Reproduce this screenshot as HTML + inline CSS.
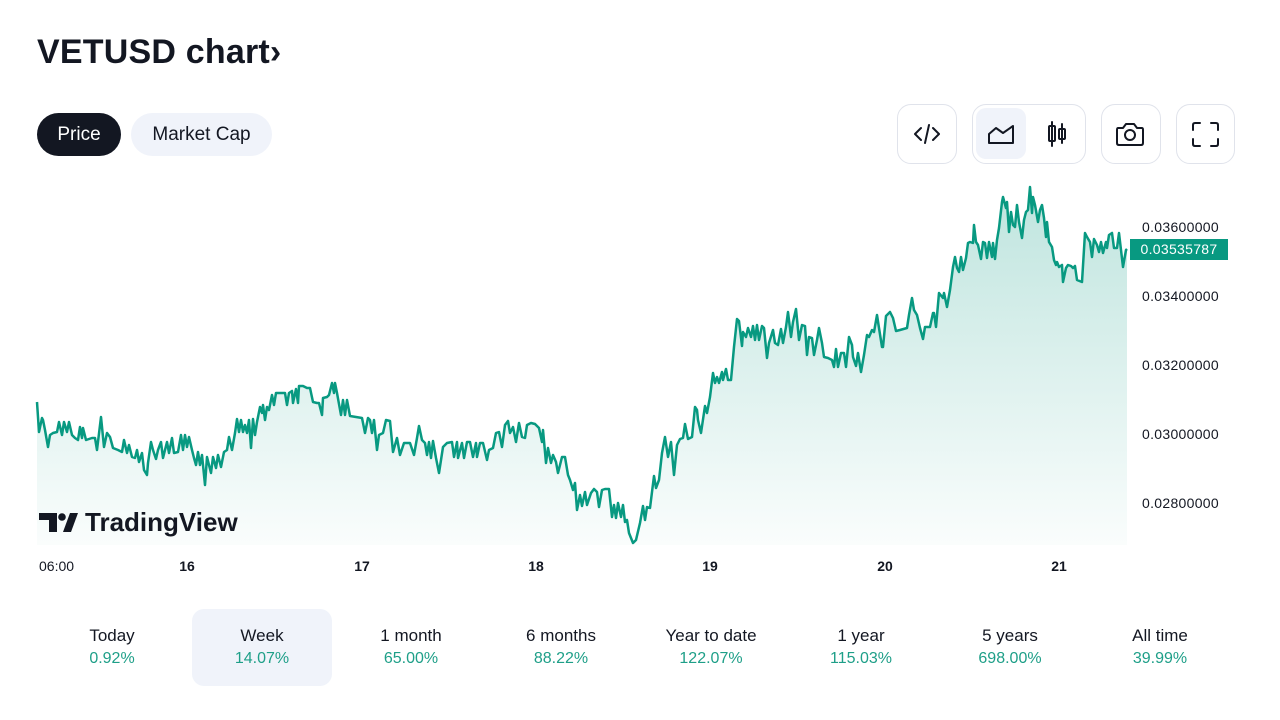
<!DOCTYPE html>
<html><head><meta charset="utf-8"><style>
*{margin:0;padding:0;box-sizing:border-box}
body{width:1280px;height:720px;background:#fff;font-family:"Liberation Sans",sans-serif;color:#131722;position:relative;overflow:hidden}
.abs{position:absolute}
.title{left:37px;top:33px;font-size:34px;font-weight:bold;letter-spacing:0.2px;white-space:nowrap}
.pill{top:113px;height:43px;border-radius:22px;font-size:19px;line-height:43px;text-align:center}
.btn{top:104px;height:60px;border:1px solid #e0e3eb;border-radius:14px}
.yl{left:1142px;font-size:14px;line-height:16px;letter-spacing:0.3px}
.xl{top:558px;font-size:14px;line-height:16px;font-weight:bold;width:40px;text-align:center}
.stat{top:609px;width:140px;height:77px;text-align:center}
.stat .l{margin-top:17px;font-size:17px;line-height:20px;color:#131722}
.stat .v{margin-top:3px;font-size:16px;line-height:19px;color:#1e9f88}
</style></head><body>
<div class="abs title">VETUSD chart›</div>
<div class="abs pill" style="left:37px;width:84px;background:#131722;color:#fff">Price</div>
<div class="abs pill" style="left:131px;width:141px;background:#f0f3fa;color:#131722">Market Cap</div>

<div class="abs btn" style="left:897px;width:60px"></div>
<div class="abs btn" style="left:972px;width:114px"></div>
<div class="abs" style="left:976px;top:108px;width:50px;height:51px;background:#f0f3fa;border-radius:10px"></div>
<div class="abs btn" style="left:1101px;width:60px"></div>
<div class="abs btn" style="left:1176px;width:59px"></div>

<svg class="abs" style="left:0;top:0" width="1280" height="720" viewBox="0 0 1280 720">
<defs>
<linearGradient id="g" x1="0" y1="187" x2="0" y2="545" gradientUnits="userSpaceOnUse">
<stop offset="0" stop-color="#089981" stop-opacity="0.26"/>
<stop offset="1" stop-color="#089981" stop-opacity="0.02"/>
</linearGradient>
</defs>
<g fill="none" stroke="#131722" stroke-width="2" stroke-linecap="round" stroke-linejoin="round">
<polyline points="921,128 915,134 921,140"/>
<polyline points="933,128 939,134 933,140"/>
<line x1="929" y1="125" x2="925" y2="143"/>
<path d="M989,143 L989,134 L996,128 L1003,133 L1013,126 L1013,143 Z"/>
<line x1="1052" y1="122" x2="1052" y2="146"/>
<rect x="1049" y="126" width="6" height="15" rx="1"/>
<line x1="1062" y1="124" x2="1062" y2="143"/>
<rect x="1059" y="129" width="6" height="10" rx="1"/>
<path d="M1118,128 L1123,128 L1126,124 L1134,124 L1137,128 L1142,128 Q1143,128 1143,130 L1143,143 Q1143,145 1141,145 L1119,145 Q1117,145 1117,143 L1117,130 Q1117,128 1118,128 Z"/>
<circle cx="1130" cy="135" r="5"/>
<path d="M1193,130 L1193,125 Q1193,123 1195,123 L1200,123"/>
<path d="M1211,123 L1216,123 Q1218,123 1218,125 L1218,130"/>
<path d="M1218,139 L1218,144 Q1218,146 1216,146 L1211,146"/>
<path d="M1200,146 L1195,146 Q1193,146 1193,144 L1193,139"/>
</g>
<polygon fill="url(#g)" points="37,545 37,402 39,432 42,418 43,420 45,430 48,447 50,435 53,433 57,432 59,422 62,435 64,422 67,432 69,422 72,435 75,438 78,440 80,427 82,438 83,428 86,440 92,438 95,438 97,450 101,417 104,447 107,433 110,437 113,448 118,450 122,452 124,440 127,453 129,445 132,457 135,458 137,450 139,462 142,453 144,470 147,475 148,463 151,442 153,450 156,459 158,450 161,442 163,458 167,442 169,453 172,438 174,453 178,452 181,435 183,450 185,435 187,447 189,437 192,450 194,458 196,465 198,452 200,465 202,455 205,485 207,457 211,473 213,457 216,468 218,455 221,467 224,452 227,450 229,437 232,450 235,433 237,419 239,432 241,420 243,432 245,425 247,433 249,420 251,448 253,419 255,435 257,422 260,407 262,413 263,405 265,420 267,407 269,410 272,395 274,405 276,393 278,393 285,393 287,405 289,393 292,391 293,403 296,389 298,403 299,386 303,386 307,388 310,388 313,402 317,403 319,403 322,415 323,398 327,397 329,395 332,383 334,393 335,383 337,393 341,415 343,400 345,415 347,400 350,416 362,418 365,433 368,418 370,420 372,433 374,420 377,450 379,435 383,433 386,420 390,421 393,452 397,438 400,455 404,443 410,443 414,455 417,438 419,426 422,440 425,443 427,455 429,442 431,458 433,441 436,458 439,473 443,447 447,443 452,442 454,457 457,442 458,458 462,443 464,458 467,442 470,442 473,457 476,443 477,457 480,443 483,443 487,460 489,450 493,448 496,433 499,432 502,447 505,425 508,421 510,433 513,427 516,442 519,423 522,437 525,438 527,425 531,423 535,424 539,428 542,442 543,430 546,463 548,448 551,463 553,455 556,462 558,473 562,457 565,457 568,475 570,480 573,490 575,483 577,510 580,495 582,506 585,492 587,505 591,493 594,489 597,492 599,507 602,490 605,489 609,489 612,517 614,505 616,518 618,503 621,517 623,505 625,522 627,520 629,533 633,543 636,540 640,523 643,506 645,520 647,507 650,508 654,476 656,488 659,480 662,453 665,437 668,457 671,442 674,475 677,445 680,439 683,438 685,424 688,439 692,437 695,407 697,410 698,420 701,433 705,406 707,413 710,397 713,373 715,383 717,377 719,383 722,372 723,380 726,369 728,380 731,380 734,347 737,319 739,321 742,346 743,332 746,337 748,328 751,337 753,326 755,340 757,325 759,340 762,326 764,328 767,358 769,343 773,330 775,343 778,345 781,329 783,343 786,327 788,312 791,337 793,322 796,309 799,340 802,325 805,326 807,355 809,337 812,338 814,355 817,340 819,328 822,343 824,357 828,358 832,360 834,367 836,349 838,367 841,353 844,353 846,367 849,337 852,345 853,357 856,366 858,353 861,372 864,355 867,335 869,337 872,330 874,332 877,315 879,328 882,347 883,347 886,316 890,312 893,318 896,331 900,330 907,328 909,315 912,298 914,310 917,315 920,328 923,339 925,327 930,327 933,313 934,313 936,327 939,293 943,298 944,293 947,307 950,290 953,267 955,257 957,268 959,272 961,257 963,270 966,258 968,243 970,242 973,243 974,225 976,242 978,245 981,259 983,242 985,243 987,258 989,242 992,257 993,243 995,259 997,240 999,228 1002,202 1003,197 1006,208 1007,202 1009,232 1011,212 1013,225 1015,227 1017,205 1019,222 1022,238 1024,220 1026,212 1028,210 1030,187 1032,213 1033,197 1035,205 1038,222 1040,210 1042,205 1044,218 1046,237 1047,222 1049,242 1052,247 1054,260 1056,265 1057,262 1059,267 1062,265 1063,282 1066,268 1068,265 1071,266 1073,268 1075,266 1077,280 1082,282 1085,233 1087,237 1090,242 1092,257 1094,239 1097,245 1099,252 1101,242 1103,253 1106,242 1107,248 1109,235 1112,233 1114,248 1117,248 1119,233 1121,250 1123,267 1126,250 1127,249 1127,545"/>
<polyline fill="none" stroke="#089981" stroke-width="2.5" stroke-linejoin="round" points="37,402 39,432 42,418 43,420 45,430 48,447 50,435 53,433 57,432 59,422 62,435 64,422 67,432 69,422 72,435 75,438 78,440 80,427 82,438 83,428 86,440 92,438 95,438 97,450 101,417 104,447 107,433 110,437 113,448 118,450 122,452 124,440 127,453 129,445 132,457 135,458 137,450 139,462 142,453 144,470 147,475 148,463 151,442 153,450 156,459 158,450 161,442 163,458 167,442 169,453 172,438 174,453 178,452 181,435 183,450 185,435 187,447 189,437 192,450 194,458 196,465 198,452 200,465 202,455 205,485 207,457 211,473 213,457 216,468 218,455 221,467 224,452 227,450 229,437 232,450 235,433 237,419 239,432 241,420 243,432 245,425 247,433 249,420 251,448 253,419 255,435 257,422 260,407 262,413 263,405 265,420 267,407 269,410 272,395 274,405 276,393 278,393 285,393 287,405 289,393 292,391 293,403 296,389 298,403 299,386 303,386 307,388 310,388 313,402 317,403 319,403 322,415 323,398 327,397 329,395 332,383 334,393 335,383 337,393 341,415 343,400 345,415 347,400 350,416 362,418 365,433 368,418 370,420 372,433 374,420 377,450 379,435 383,433 386,420 390,421 393,452 397,438 400,455 404,443 410,443 414,455 417,438 419,426 422,440 425,443 427,455 429,442 431,458 433,441 436,458 439,473 443,447 447,443 452,442 454,457 457,442 458,458 462,443 464,458 467,442 470,442 473,457 476,443 477,457 480,443 483,443 487,460 489,450 493,448 496,433 499,432 502,447 505,425 508,421 510,433 513,427 516,442 519,423 522,437 525,438 527,425 531,423 535,424 539,428 542,442 543,430 546,463 548,448 551,463 553,455 556,462 558,473 562,457 565,457 568,475 570,480 573,490 575,483 577,510 580,495 582,506 585,492 587,505 591,493 594,489 597,492 599,507 602,490 605,489 609,489 612,517 614,505 616,518 618,503 621,517 623,505 625,522 627,520 629,533 633,543 636,540 640,523 643,506 645,520 647,507 650,508 654,476 656,488 659,480 662,453 665,437 668,457 671,442 674,475 677,445 680,439 683,438 685,424 688,439 692,437 695,407 697,410 698,420 701,433 705,406 707,413 710,397 713,373 715,383 717,377 719,383 722,372 723,380 726,369 728,380 731,380 734,347 737,319 739,321 742,346 743,332 746,337 748,328 751,337 753,326 755,340 757,325 759,340 762,326 764,328 767,358 769,343 773,330 775,343 778,345 781,329 783,343 786,327 788,312 791,337 793,322 796,309 799,340 802,325 805,326 807,355 809,337 812,338 814,355 817,340 819,328 822,343 824,357 828,358 832,360 834,367 836,349 838,367 841,353 844,353 846,367 849,337 852,345 853,357 856,366 858,353 861,372 864,355 867,335 869,337 872,330 874,332 877,315 879,328 882,347 883,347 886,316 890,312 893,318 896,331 900,330 907,328 909,315 912,298 914,310 917,315 920,328 923,339 925,327 930,327 933,313 934,313 936,327 939,293 943,298 944,293 947,307 950,290 953,267 955,257 957,268 959,272 961,257 963,270 966,258 968,243 970,242 973,243 974,225 976,242 978,245 981,259 983,242 985,243 987,258 989,242 992,257 993,243 995,259 997,240 999,228 1002,202 1003,197 1006,208 1007,202 1009,232 1011,212 1013,225 1015,227 1017,205 1019,222 1022,238 1024,220 1026,212 1028,210 1030,187 1032,213 1033,197 1035,205 1038,222 1040,210 1042,205 1044,218 1046,237 1047,222 1049,242 1052,247 1054,260 1056,265 1057,262 1059,267 1062,265 1063,282 1066,268 1068,265 1071,266 1073,268 1075,266 1077,280 1082,282 1085,233 1087,237 1090,242 1092,257 1094,239 1097,245 1099,252 1101,242 1103,253 1106,242 1107,248 1109,235 1112,233 1114,248 1117,248 1119,233 1121,250 1123,267 1126,250 1127,249"/>
<rect x="1130" y="239" width="98" height="21" fill="#089981"/>
<g fill="#131722">
<path d="M39,513 L57,513 L57,532 L49,532 L49,520 L39,520 Z"/>
<circle cx="62" cy="517" r="3.8"/>
<path d="M70,513 L78,513 L71,532 L63,532 Z"/>
</g>
</svg>

<div class="abs" style="left:1130px;top:241px;width:98px;text-align:center;color:#fff;font-size:14px;line-height:16px;letter-spacing:0.3px">0.03535787</div>
<div class="abs yl" style="top:219px">0.03600000</div>
<div class="abs yl" style="top:288px">0.03400000</div>
<div class="abs yl" style="top:357px">0.03200000</div>
<div class="abs yl" style="top:426px">0.03000000</div>
<div class="abs yl" style="top:495px">0.02800000</div>

<div class="abs" style="left:85px;top:506px;font-size:26px;font-weight:bold;line-height:32px;letter-spacing:0px">TradingView</div>

<div class="abs" style="left:39px;top:558px;font-size:14px;line-height:16px">06:00</div>
<div class="abs xl" style="left:167px">16</div>
<div class="abs xl" style="left:342px">17</div>
<div class="abs xl" style="left:516px">18</div>
<div class="abs xl" style="left:690px">19</div>
<div class="abs xl" style="left:865px">20</div>
<div class="abs xl" style="left:1039px">21</div>

<div class="abs stat" style="left:42px"><div class="l">Today</div><div class="v">0.92%</div></div>
<div class="abs stat" style="left:192px;background:#f0f3fa;border-radius:12px"><div class="l">Week</div><div class="v">14.07%</div></div>
<div class="abs stat" style="left:341px"><div class="l">1 month</div><div class="v">65.00%</div></div>
<div class="abs stat" style="left:491px"><div class="l">6 months</div><div class="v">88.22%</div></div>
<div class="abs stat" style="left:641px"><div class="l">Year to date</div><div class="v">122.07%</div></div>
<div class="abs stat" style="left:791px"><div class="l">1 year</div><div class="v">115.03%</div></div>
<div class="abs stat" style="left:940px"><div class="l">5 years</div><div class="v">698.00%</div></div>
<div class="abs stat" style="left:1090px"><div class="l">All time</div><div class="v">39.99%</div></div>
</body></html>
